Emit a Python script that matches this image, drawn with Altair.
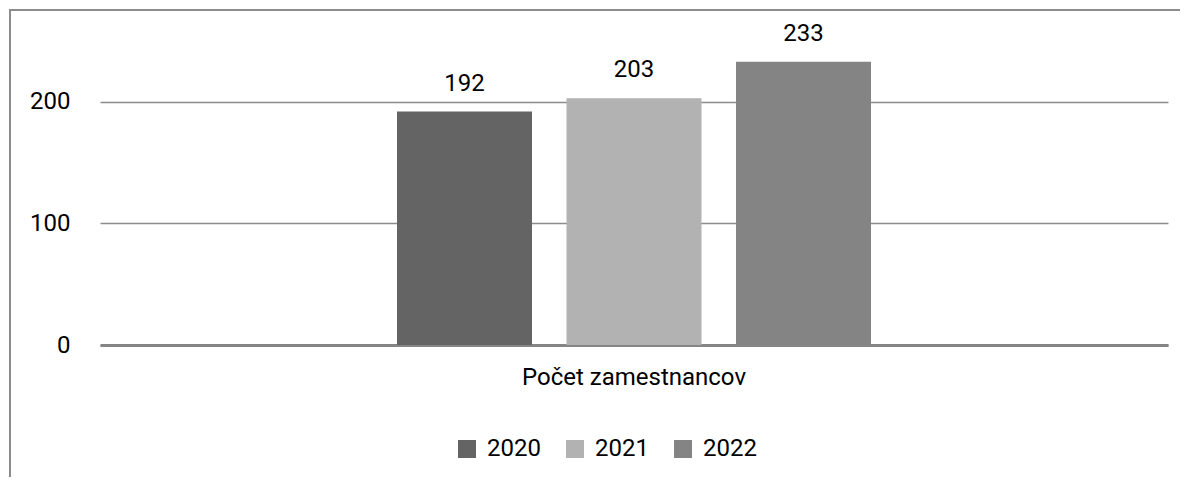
import altair as alt
import pandas as pd

categories = ["Počet zamestnancov"]
years = ["2020", "2021", "2022"]
values = [192, 203, 233]
colors = ["#646464", "#b2b2b2", "#848484"]
y_ticks = [0, 100, 200]

df = pd.DataFrame({
    "kategoria": categories * len(years),
    "rok": years,
    "pocet": values,
})

W, H = 1068, 304
FONT = "Roboto"

base = alt.Chart(df).encode(
    x=alt.X("kategoria:N",
            scale=alt.Scale(paddingInner=0, paddingOuter=0.6266),
            axis=alt.Axis(title=None, labelFontSize=24, labelFont=FONT, labelColor="#000000",
                          labelPadding=20, labelLimit=0, ticks=False, domain=True,
                          domainColor="#858585", domainWidth=3, labelAngle=0)),
    xOffset=alt.XOffset("rok:N", scale=alt.Scale(paddingInner=0.2035, paddingOuter=0)),
)

bars = base.mark_bar().encode(
    y=alt.Y("pocet:Q", scale=alt.Scale(domain=[0, 250], nice=False),
            axis=alt.Axis(title=None, values=y_ticks, labelFontSize=24, labelFont=FONT,
                          labelColor="#000000", labelPadding=30, ticks=False, domain=False,
                          grid=True, gridColor="#8c8c8c", gridWidth=1.5)),
    color=alt.Color("rok:N", scale=alt.Scale(domain=years, range=colors),
                    legend=alt.Legend(title=None, orient="none", direction="horizontal",
                                      legendX=355, legendY=396, symbolType="square",
                                      symbolSize=324, symbolStrokeWidth=0, labelFontSize=24,
                                      labelFont=FONT, labelColor="#000000", labelOffset=8,
                                      columnPadding=22)),
)

labels = base.mark_text(fontSize=24, font=FONT, color="#000000", baseline="alphabetic", dy=-21).encode(
    y=alt.Y("pocet:Q"),
    text=alt.Text("pocet:Q"),
)

border = alt.Chart(alt.Data(values=[{}])).mark_rect(
    fill=None, stroke="#8c8c8c", strokeWidth=2
).encode(
    x=alt.value(-90), x2=alt.value(W + 60), y=alt.value(-31), y2=alt.value(H + 200)
)

chart = alt.layer(bars, labels, border).properties(
    width=W, height=H,
    background="#ffffff",
    autosize=alt.AutoSizeParams(type="none"),
    padding={"left": 92, "top": 33, "right": 12, "bottom": 132},
).configure_view(stroke=None)

chart.save("out.html", embed_options={"renderer": "svg", "actions": False})
